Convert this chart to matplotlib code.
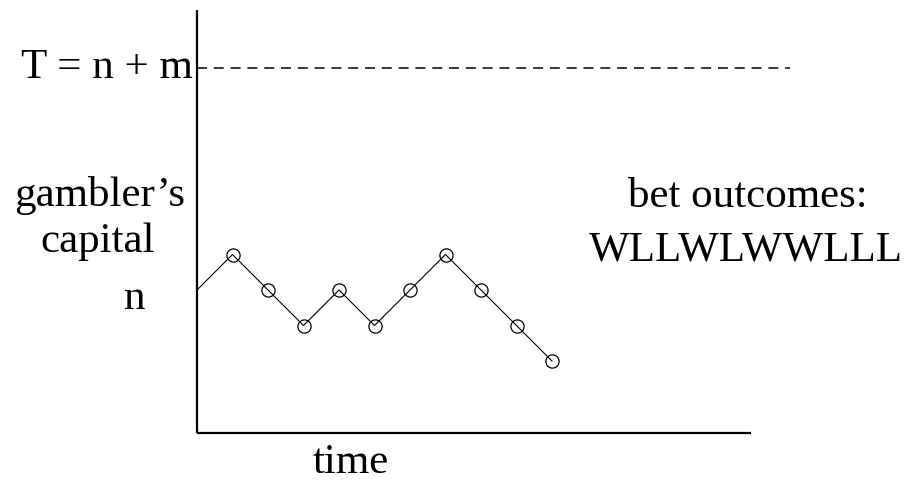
import matplotlib.pyplot as plt

# bet outcomes and resulting capital (relative to starting capital n), one step per bet
outcomes = "WLLWLWWLLL"
steps = list(range(11))
capital = [0, 1, 0, -1, 0, -1, 0, 1, 0, -1, -2]
target_level = 6.25  # T = n + m
floor_level = -4.03  # bottom of the axes
top_level = 7.9
time_end = 15.6
dash_end = 16.7

plt.rcParams["font.family"] = ["Liberation Serif", "DejaVu Serif"]
fs = 31

fig = plt.figure(figsize=(9.08, 4.82), dpi=100)
ax = fig.add_axes([0, 0, 1, 1])
step_px = 35.5
ax.set_xlim(-197 / step_px, (908 - 197) / step_px)
ax.set_ylim(-(482 - 290) / step_px, 290 / step_px)
ax.axis("off")

# axes drawn by hand
ax.plot([0, 0], [floor_level, top_level], color="black", lw=1.6, solid_capstyle="butt")
ax.plot([0, time_end], [floor_level, floor_level], color="black", lw=1.6,
        solid_capstyle="butt")
ax.plot([0, dash_end], [target_level, target_level], color="black", lw=1.1,
        linestyle=(0, (6.5, 4.5)))

# random walk
ax.plot(steps, capital, color="black", lw=0.8)
ax.plot(steps[1:], capital[1:], linestyle="none", marker="o", ms=9.5,
        markerfacecolor="none", markeredgecolor="black", markeredgewidth=0.9)

ax.text(-0.13, target_level, "T = n + m", fontsize=fs, ha="right", va="center")
ax.text(-2.75, 2.65, "gambler\u2019s", fontsize=fs, ha="center", va="center")
ax.text(-2.8, 1.36, "capital", fontsize=fs, ha="center", va="center")
ax.text(-1.75, -0.25, "n", fontsize=fs, ha="center", va="center")
ax.text(4.34, -4.86, "time", fontsize=fs, ha="center", va="center")
ax.text(15.52, 2.62, "bet outcomes:", fontsize=fs, ha="center", va="center")
ax.text(15.46, 1.12, outcomes, fontsize=fs, ha="center", va="center")

fig.savefig("out.png", dpi=100)
